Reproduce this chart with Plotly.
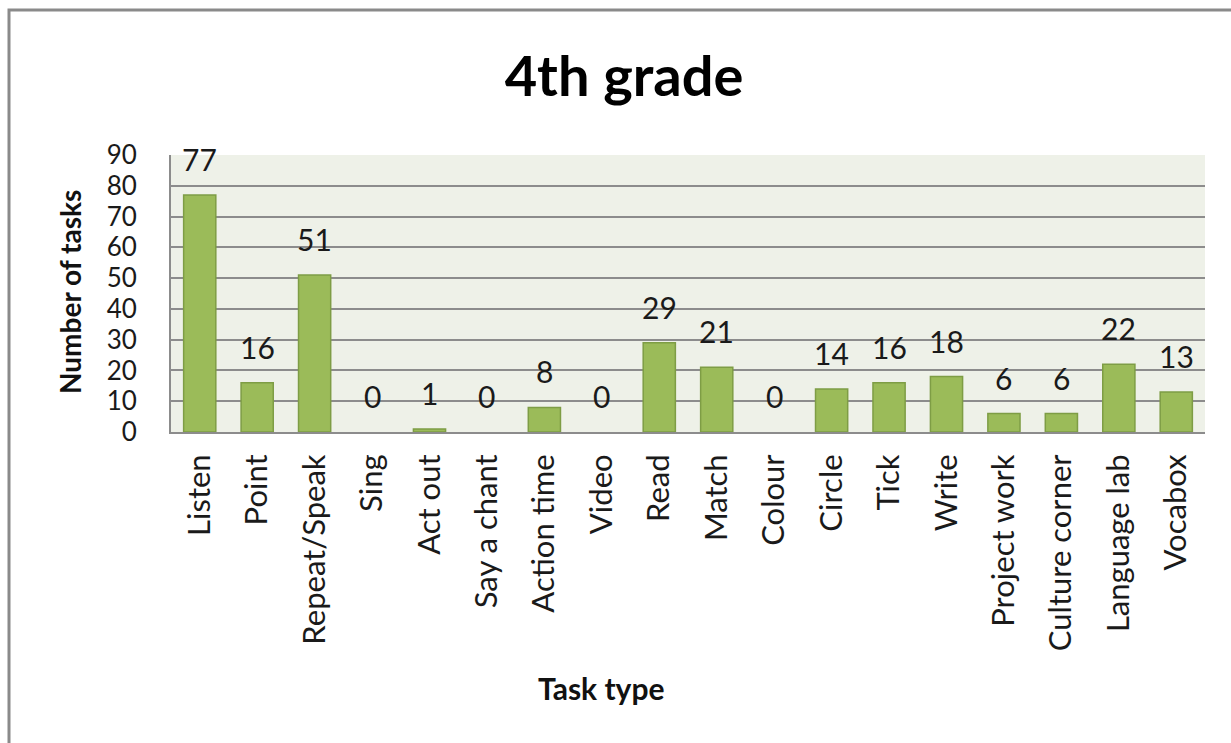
import plotly.graph_objects as go

categories = ["Listen", "Point", "Repeat/Speak", "Sing", "Act out", "Say a chant",
              "Action time", "Video", "Read", "Match", "Colour", "Circle", "Tick",
              "Write", "Project work", "Culture corner", "Language lab", "Vocabox"]
values = [77, 16, 51, 0, 1, 0, 8, 0, 29, 21, 0, 14, 16, 18, 6, 6, 22, 13]
y_ticks = [0, 10, 20, 30, 40, 50, 60, 70, 80, 90]

FONT = "Lato"
L, R, T, B = 171, 26, 155, 311
W, H = 1231, 743
pw = W - L - R
ph = H - T - B

def px_x(x):
    return (x - L) / pw

def px_y(y):
    return (H - B - y) / ph

fig = go.Figure()
fig.add_trace(go.Bar(
    x=categories, y=values,
    marker=dict(color="#9BBB59",
                line=dict(color="#7E9D45", width=[1.5 if v > 0 else 0 for v in values])),
    showlegend=False, hoverinfo="x+y",
))

for c, v in zip(categories, values):
    fig.add_annotation(x=c, y=v, text=str(v), showarrow=False, yshift=36,
                       font=dict(family=FONT, size=30, color="#1a1a1a"))

# axis titles
fig.add_annotation(xref="paper", yref="paper", x=px_x(70), y=px_y(292),
                   xanchor="center", yanchor="middle",
                   text="<b>Number of tasks</b>", textangle=-90, showarrow=False,
                   font=dict(family=FONT, size=28, color="#111111"))
fig.add_annotation(xref="paper", yref="paper", x=px_x(601), y=px_y(688),
                   xanchor="center", yanchor="middle",
                   text="<b>Task type</b>", showarrow=False,
                   font=dict(family=FONT, size=30, color="#111111"))

# outer chart border (cropped at right and bottom)
fig.add_shape(type="rect", xref="paper", yref="paper",
              x0=px_x(9), x1=px_x(1245), y0=px_y(760), y1=px_y(10),
              line=dict(color="#8a8a8a", width=3), layer="below")

fig.update_layout(
    width=W, height=H,
    margin=dict(l=L, r=R, t=T, b=B),
    paper_bgcolor="white",
    plot_bgcolor="#EEF1E8",
    bargap=0.44,
    title=dict(text="<b>4th grade</b>", x=624 / W, xanchor="center",
               y=1 - 76 / H, yanchor="middle",
               font=dict(family=FONT, size=56, color="#000000")),
    font=dict(family=FONT, color="#1a1a1a"),
    xaxis=dict(
        type="category", tickangle=-90, showgrid=False,
        showline=True, linecolor="#8c8c8c", linewidth=2,
        ticks="", ticklabelstandoff=8,
        tickfont=dict(family=FONT, size=31, color="#1a1a1a"),
    ),
    yaxis=dict(
        range=[0, 90], tickvals=y_ticks, showgrid=True,
        gridcolor="#8c8c8c", gridwidth=2,
        showline=True, linecolor="#8c8c8c", linewidth=2,
        zeroline=False, ticks="", ticklabelstandoff=27,
        tickfont=dict(family=FONT, size=26, color="#1a1a1a"),
    ),
)

fig.write_html("out.html", post_script="document.body.style.margin='0';",
               config={"displayModeBar": False})
